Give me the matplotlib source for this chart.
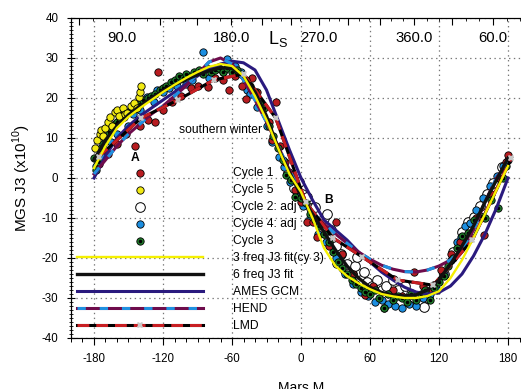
import numpy as np
import matplotlib.pyplot as plt
from matplotlib.ticker import MultipleLocator

plt.rcParams['font.family'] = ['Liberation Sans', 'DejaVu Sans']
plt.rcParams['axes.unicode_minus'] = False
plt.rcParams['lines.scale_dashes'] = False

# ---- fitted / model curves: Mars mean anomaly M (deg) vs J3 (x1e10) ----
fit_m = list(range(-180, 181, 10))
fit3_cy3 = [2.5, 8, 12.5, 15.3, 17.5, 19.5, 21.5, 23.3, 25, 26.5, 27.8, 28.5, 28, 25.5, 20.5,
            14.5, 7.5, 1, -3.5, -10, -17.5, -22, -24.5, -26.3, -27.8, -29, -29.6, -30, -30,
            -29.5, -28.3, -25, -20.5, -15, -9, -3, 3]
fit6 = [4.5, 9.5, 13, 15.8, 18, 20, 21.8, 23.3, 24.6, 25.8, 26.8, 27.6, 27.4, 25.5, 21.5,
        15.5, 7.5, 1.5, -4.5, -9, -13.5, -18, -22, -25, -27.3, -28.6, -29.3, -29.5, -29.2,
        -28, -25.5, -21.5, -17, -12, -6, -0.5, 5]
ames = [0, 5.5, 10, 13, 15.5, 17.5, 19.5, 21.5, 23.5, 25.5, 27.3, 28.5, 29.2, 28.8, 27,
        22, 14.5, 7, 0, -5.5, -10.5, -13, -15.5, -18.5, -21, -23.5, -25.5, -27.3, -28.5,
        -29, -28.6, -27, -24, -19.5, -14, -7.5, 0]
hend = [1, 4.5, 8, 11, 13.5, 16, 18, 20.5, 23, 26, 29, 30, 28.5, 24.5, 19.5,
        14, 8, 2, -4, -8.5, -11.5, -14, -16.3, -18.5, -20.3, -21.8, -22.8, -23.4, -23.5,
        -23, -22, -20.5, -18, -13, -6, 0, 4]
lmd_m = [-176, -139, -107, -76, -50, -22, 4, 28, 53, 84, 115, 149, 183]
lmd = [5.3, 15, 19.5, 24.5, 26, 15, -6, -15, -19.7, -25.5, -26.8, -15.5, 5]

# ---- MGS observations per cycle ----
cyc1_m = [-176, -168, -160, -152, -144, -140, -133, -127, -124, -120, -112, -104, -96, -90,
          -81, -75, -68, -63, -57, -51, -48, -43, -38, -33, -28, -25, -22, -18, -14, -10,
          -5, 0, 5, 10, 14, 20, 24, 30, 36, 45, 56, 63, 72, 80, 88, 98, 106, 114, 122, 130,
          138, 145, 152, 159, 165, 172, 178, 180]
cyc1_j3 = [3.5, 6, 8.5, 11, 8, 13, 14.5, 14, 26.5, 17, 19, 20.5, 22.5, 23,
           22.7, 25, 24.5, 22, 25.5, 23, 19.7, 25, 21.5, 18, 14, 9.5, 19, 8, 4, 1,
           -3, -6, -11, -11, -14.7, -14, -17, -11, -19, -24, -29.3, -27, -32.5, -28, -29.5,
           -23.5, -27, -28, -23, -19, -16, -14, -10, -14.2, -4, 0, 4, 5.7]

cyc5_m = [-179, -177, -175, -174, -172, -170, -168, -166, -164, -162, -160, -158, -155,
          -153, -151, -148, -145, -143, -141, -140, -139]
cyc5_j3 = [7.5, 9.5, 11, 12, 10.5, 12.5, 14, 15.3, 13, 16.5, 17, 15.5, 17.5,
           16, 16.2, 18, 18.7, 17.5, 20.3, 21.5, 23]

cyc2_m = [-11, -8, -6, -2, 1, 5, 9, 12, 16, 20, 23, 26, 30, 31, 35, 38, 40, 44, 47, 49, 52,
          55, 57, 62, 66, 70, 74, 80, 84, 90, 96, 102, 107, 110, 116, 124, 132, 140, 145,
          150, 156, 162, 167, 175]
cyc2_j3 = [1.2, -0.5, -2.5, -1, -4, -4.7, -7.5, -7.2, -11, -10, -9, -13, -17, -21.3, -19,
           -23, -21.5, -24, -22, -19.7, -25.5, -23.5, -26, -27, -25.5, -28, -27, -25.5, -28,
           -27, -29, -31, -32.3, -30, -27, -24, -18.5, -13.5, -11, -9.8, -7, -4, -1.3, 2.8]

cyc4_m = [-178, -172, -165, -160, -154, -150, -146, -140, -134, -128, -125, -120, -115, -108,
          -100, -95, -85, -80, -74, -68, -64, -57, -52, -47, -44, -38, -30, -25, -19, -15,
          -10, -4, 2, 8, 15, 22, 30, 38, 45, 52, 58, 64, 70, 76, 82, 88, 94, 100, 106, 112,
          118, 124, 130, 136, 139, 143, 147, 152, 158, 164, 170, 176, 180]
cyc4_j3 = [3, 5.5, 9, 11, 15.3, 13, 16, 17, 20.3, 19, 22, 21.5, 22.5, 23,
           23.5, 24.5, 31.5, 25, 27.5, 26.5, 29.8, 28, 26.5, 22, 21, 17.8, 13, 9, 5.3, 2.7,
           -1, -4.5, -7, -10, -14, -16, -20, -24, -26.5, -28.5, -29.5, -31, -30.5, -31.5,
           -32, -32.5, -31.5, -32, -30, -29, -28, -24, -20.5, -16, -14.7, -12, -11.3, -8,
           -5, -2, 0.5, 3, 4.5]

cyc3_m = [-180, -178, -176, -174, -172, -170, -167, -165, -162, -160, -157, -154, -150, -147,
          -143, -140, -137, -133, -130, -127, -123, -120, -117, -113, -110, -106, -103, -100,
          -96, -93, -89, -85, -82, -78, -75, -71, -68, -64, -60, -56, -52, -48, -44, -40,
          -36, -32, -28, -24, -20, -16, -13, -9, -5, 0, 4, 8, 12, 16, 20, 24, 28, 32, 36,
          40, 44, 48, 52, 56, 60, 64, 68, 72, 76, 80, 84, 88, 92, 96, 100, 104, 108, 112,
          116, 120, 124, 128, 132, 136, 140, 145, 150, 156, 160, 165, 171, 176, 178]
cyc3_j3 = [5, 2, 4, 7.5, 8.5, 10, 11.5, 12.5, 13.5, 14, 15, 16, 16.5, 17,
           18, 18.5, 19.5, 20, 20.5, 21, 22, 22.5, 23, 24, 24.5, 25.5, 25, 26,
           25.5, 26.5, 27, 26, 27.5, 26.5, 27, 27.5, 26.5, 27.5, 26.5, 27, 26, 24.5, 23, 21.5,
           18.5, 17.5, 13, 10.5, 7.5, 4.5, 0.8, -0.5, -4.7, -5, -6.3, -9, -10.5, -12, -14,
           -16, -18.5, -21, -22.5, -24, -25.5, -26.5, -27.5, -28.5, -29, -28, -30, -32.5,
           -29, -30.5, -29.5, -30, -31, -29, -30.5, -29, -28, -30.5, -27.5, -26, -24.5, -22,
           -20, -17.5, -14.5, -13.8, -10.5, -9.5, -10, -5.5, -7.5, 0, 3]

# Ls labels placed along the top
ls_text = ['90.0', '180.0', '270.0', '360.0', '60.0']
ls_text_m = [-156, -60, 16, 98, 167]

fig = plt.figure(figsize=(5.21, 3.89), dpi=100)
ax = fig.add_axes([71 / 521, 51 / 389, 460 / 521, 320 / 389])
ax.set_xlim(-200, 200)
ax.set_ylim(-40, 40)

ax.set_xticks(range(-180, 181, 60))
ax.xaxis.set_minor_locator(MultipleLocator(10))
ax.set_yticks(range(-40, 41, 10))
ax.yaxis.set_minor_locator(MultipleLocator(1))
ax.grid(True, which='major', color='#777777', linestyle=(0, (1, 2.5)), linewidth=0.9)
ax.tick_params(axis='x', which='major', direction='out', length=5, width=0.8,
               labelsize=8.3, pad=6, top=False)
ax.tick_params(axis='x', which='minor', direction='out', length=3, width=0.7, top=False)
ax.tick_params(axis='y', which='major', direction='inout', length=6, width=0.8,
               labelsize=8.3, pad=6)
ax.tick_params(axis='y', which='minor', direction='inout', length=3.5, width=0.6)
for s in ax.spines.values():
    s.set_linewidth(0.8)

# Ls ticks along the top spine (Kepler conversion Ls -> M)
e = 0.0934
def ls_to_m(ls):
    nu = np.radians(ls - 251.0)
    E = 2 * np.arctan(np.sqrt((1 - e) / (1 + e)) * np.tan(nu / 2))
    m = np.degrees(E - e * np.sin(E))
    return [v + k for v in np.atleast_1d(m) for k in (-360, 0, 360) if -200 <= v + k <= 200]

ax2 = ax.twiny()
ax2.set_xlim(ax.get_xlim())
ax2.set_xticks(sorted(ls_to_m(np.arange(0, 360, 30))))
ax2.set_xticks(sorted(ls_to_m(np.arange(0, 360, 10))), minor=True)
ax2.tick_params(axis='x', which='major', direction='in', length=5, width=0.8, labeltop=False)
ax2.tick_params(axis='x', which='minor', direction='in', length=2.5, width=0.6)

# observations
h2 = ax.scatter(cyc2_m, cyc2_j3, s=48, facecolor='white', edgecolor='black', linewidth=0.7, zorder=2)
h4 = ax.scatter(cyc4_m, cyc4_j3, s=28, facecolor='#1c8ee0', edgecolor='black', linewidth=0.6, zorder=2)
h1 = ax.scatter(cyc1_m, cyc1_j3, s=28, facecolor='#b81c20', edgecolor='black', linewidth=0.6, zorder=2)
h3 = ax.scatter(cyc3_m, cyc3_j3, s=28, facecolor='#1f7d2a', edgecolor='black', linewidth=0.6, zorder=2)
h3c = ax.scatter(cyc3_m, cyc3_j3, s=2.5, color='black', zorder=2)
h5 = ax.scatter(cyc5_m, cyc5_j3, s=28, facecolor='#f2ea12', edgecolor='black', linewidth=0.6, zorder=2)

# model / fit curves
lw = 2.2
la, = ax.plot(fit_m, ames, color='#2a1a7e', lw=lw, zorder=3)
lh1, = ax.plot(fit_m, hend, color='#6e0c4c', lw=lw, zorder=3)
lh2, = ax.plot(fit_m, hend, color='#1f90e0', lw=lw, dashes=(6, 10), zorder=3)
ll1, = ax.plot(lmd_m, lmd, color='black', lw=lw, zorder=3)
ll2, = ax.plot(lmd_m, lmd, color='#c81e22', lw=lw, dashes=(8.5, 5), zorder=3)
ll3, = ax.plot(lmd_m, lmd, linestyle='none', marker='X', markersize=5,
               color='#c8c8c8', markeredgewidth=0, zorder=4)
l6, = ax.plot(fit_m, fit6, color='#111111', lw=2.4, zorder=3)
l3, = ax.plot(fit_m, fit3_cy3, color='#f5f000', lw=1.7, zorder=3)

handles = [h1, h5, h2, h4, (h3, h3c), l3, l6, la, (lh1, lh2), (ll1, ll2, ll3)]
labels = ['Cycle 1', 'Cycle 5', 'Cycle 2: adj', 'Cycle 4: adj', 'Cycle 3',
          '3 freq J3 fit(cy 3)', '6 freq J3 fit', 'AMES GCM', 'HEND', 'LMD']
ax.legend(handles, labels, loc='upper left', bbox_to_anchor=(0.013, 0.535),
          frameon=False, fontsize=8.7, handlelength=10.4, handletextpad=2.5,
          labelspacing=0.42, borderpad=0, borderaxespad=0, scatterpoints=1, numpoints=1)

for t, m in zip(ls_text, ls_text_m):
    ax.text(m, 34.9, t, fontsize=10.7, ha='center', va='center')
ax.text(-20.4, 33.4, r'L$_\mathregular{S}$', fontsize=13, ha='center', va='baseline')
ax.text(-69.6, 12, 'southern winter', fontsize=8.7, ha='center', va='center')
ax.text(-144, 5, 'A', fontsize=8.7, fontweight='bold', ha='center', va='center')
ax.text(24, -5.5, 'B', fontsize=8.7, fontweight='bold', ha='center', va='center')

ax.set_ylabel(r'MGS J3 (x10$^{\mathregular{10}}$)', fontsize=11, labelpad=6)
ax.set_xlabel('Mars M', fontsize=10, labelpad=11)

fig.savefig('out.png', dpi=100)
